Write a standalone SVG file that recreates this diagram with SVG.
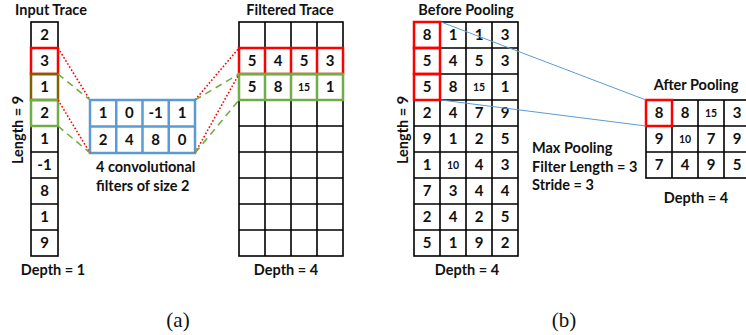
<svg xmlns="http://www.w3.org/2000/svg" width="746" height="335" viewBox="0 0 746 335">
<style>
text{font-family:Lato,"Liberation Sans",sans-serif;font-weight:bold;fill:#111}
.t{font-size:14.5px;text-anchor:middle}
.n{font-size:15px;text-anchor:middle}
.s{font-size:10.5px;text-anchor:middle}
.l{font-size:14.5px;text-anchor:start}
.cap{font-family:"Liberation Serif","DejaVu Serif",serif;font-weight:normal;font-size:21px;text-anchor:middle}
.g{fill:#fff;stroke:#000;stroke-width:1.6}
.gl{stroke:#000;stroke-width:1.6}
.red{fill:none;stroke:#ff0000;stroke-width:2.5}
.grn{fill:none;stroke:#70ad47;stroke-width:2.5}
.brn{fill:none;stroke:#806000;stroke-width:2.5}
.blu{fill:none;stroke:#5b9bd5;stroke-width:2.5}
.rd{stroke:#ff0000;stroke-width:1.6;stroke-dasharray:1.6 2;fill:none}
.gd{stroke:#70ad47;stroke-width:1.6;stroke-dasharray:7 5;fill:none}
.bl{stroke:#5b9bd5;stroke-width:1;fill:none}
</style>

<g id="input-trace">
<text class="t" x="51" y="15">Input Trace</text>
<rect class="g" x="31" y="22" width="27" height="234"/>
<path class="gl" d="M31 48H58M31 74H58M31 100H58M31 126H58M31 152H58M31 178H58M31 204H58M31 230H58"/>
<rect class="red" x="31" y="48" width="27" height="26"/>
<rect class="brn" x="31" y="74" width="27" height="26"/>
<rect class="grn" x="31" y="100" width="27" height="26"/>
<text class="n" x="44.5" y="40">2</text>
<text class="n" x="44.5" y="66">3</text>
<text class="n" x="44.5" y="92">1</text>
<text class="n" x="44.5" y="118">2</text>
<text class="n" x="44.5" y="144">1</text>
<text class="n" x="44.5" y="170">-1</text>
<text class="n" x="44.5" y="196">8</text>
<text class="n" x="44.5" y="222">1</text>
<text class="n" x="44.5" y="248">9</text>
<text class="t" x="23" y="130" transform="rotate(-90 23 130)">Length = 9</text>
<text class="t" x="53" y="275">Depth = 1</text>
</g>

<g id="filters">
<rect x="90" y="100" width="105" height="53" fill="#fff"/>
<path class="blu" d="M116.25 100V153M142.5 100V153M168.75 100V153M90 126.5H195"/>
<rect class="blu" x="90" y="100" width="105" height="53"/>
<text class="n" x="103" y="118">1</text>
<text class="n" x="129.4" y="118">0</text>
<text class="n" x="155.6" y="118">-1</text>
<text class="n" x="182" y="118">1</text>
<text class="n" x="103" y="145">2</text>
<text class="n" x="129.4" y="145">4</text>
<text class="n" x="155.6" y="145">8</text>
<text class="n" x="182" y="145">0</text>
<text class="l" x="96" y="172">4 convolutional</text>
<text class="l" x="96" y="191">filters of size 2</text>
</g>

<g id="filtered-trace">
<text class="t" x="290" y="15">Filtered Trace</text>
<rect class="g" x="239" y="22" width="104" height="234"/>
<path class="gl" d="M265 22V256M291 22V256M317 22V256M239 48H343M239 74H343M239 100H343M239 126H343M239 152H343M239 178H343M239 204H343M239 230H343"/>
<rect class="red" x="239" y="48" width="104" height="26"/>
<path class="red" d="M265 48V74M291 48V74M317 48V74"/>
<rect class="grn" x="239" y="74" width="104" height="26"/>
<path class="grn" d="M265 74V100M291 74V100M317 74V100"/>
<text class="n" x="252" y="66">5</text>
<text class="n" x="278" y="66">4</text>
<text class="n" x="304" y="66">5</text>
<text class="n" x="330" y="66">3</text>
<text class="n" x="252" y="92">5</text>
<text class="n" x="278" y="92">8</text>
<text class="s" x="304" y="91">15</text>
<text class="n" x="330" y="92">1</text>
<text class="t" x="286" y="275">Depth = 4</text>
</g>

<g id="before-pooling">
<text class="t" x="466" y="15">Before Pooling</text>
<rect class="g" x="414" y="22" width="104" height="234"/>
<path class="gl" d="M440 22V256M466 22V256M492 22V256M414 48H518M414 74H518M414 100H518M414 126H518M414 152H518M414 178H518M414 204H518M414 230H518"/>
<rect class="red" x="414" y="22" width="26" height="26"/>
<rect class="red" x="414" y="48" width="26" height="26"/>
<rect class="red" x="414" y="74" width="26" height="26"/>
<g>
<text class="n" x="427" y="40">8</text><text class="n" x="453" y="40">1</text><text class="n" x="479" y="40">1</text><text class="n" x="505" y="40">3</text>
<text class="n" x="427" y="66">5</text><text class="n" x="453" y="66">4</text><text class="n" x="479" y="66">5</text><text class="n" x="505" y="66">3</text>
<text class="n" x="427" y="92">5</text><text class="n" x="453" y="92">8</text><text class="s" x="479" y="91">15</text><text class="n" x="505" y="92">1</text>
<text class="n" x="427" y="118">2</text><text class="n" x="453" y="118">4</text><text class="n" x="479" y="118">7</text><text class="n" x="505" y="118">9</text>
<text class="n" x="427" y="144">9</text><text class="n" x="453" y="144">1</text><text class="n" x="479" y="144">2</text><text class="n" x="505" y="144">5</text>
<text class="n" x="427" y="170">1</text><text class="s" x="453" y="169">10</text><text class="n" x="479" y="170">4</text><text class="n" x="505" y="170">3</text>
<text class="n" x="427" y="196">7</text><text class="n" x="453" y="196">3</text><text class="n" x="479" y="196">4</text><text class="n" x="505" y="196">4</text>
<text class="n" x="427" y="222">2</text><text class="n" x="453" y="222">4</text><text class="n" x="479" y="222">2</text><text class="n" x="505" y="222">5</text>
<text class="n" x="427" y="248">5</text><text class="n" x="453" y="248">1</text><text class="n" x="479" y="248">9</text><text class="n" x="505" y="248">2</text>
</g>
<text class="t" x="408" y="130" transform="rotate(-90 408 130)">Length = 9</text>
<text class="t" x="467" y="275">Depth = 4</text>
</g>

<g id="pooling-label">
<text class="l" x="532" y="153">Max Pooling</text>
<text class="l" x="532" y="172">Filter Length = 3</text>
<text class="l" x="532" y="190">Stride = 3</text>
</g>

<g id="after-pooling">
<text class="t" x="696" y="90">After Pooling</text>
<rect class="g" x="646" y="100" width="104" height="78"/>
<path class="gl" d="M672 100V178M698 100V178M724 100V178M646 126H750M646 152H750"/>
<rect class="red" x="646" y="100" width="26" height="26"/>
<text class="n" x="659" y="118">8</text><text class="n" x="685" y="118">8</text><text class="s" x="711" y="117">15</text><text class="n" x="737" y="118">3</text>
<text class="n" x="659" y="144">9</text><text class="s" x="685" y="143">10</text><text class="n" x="711" y="144">7</text><text class="n" x="737" y="144">9</text>
<text class="n" x="659" y="170">7</text><text class="n" x="685" y="170">4</text><text class="n" x="711" y="170">9</text><text class="n" x="737" y="170">5</text>
<text class="t" x="696" y="203">Depth = 4</text>
</g>

<g id="connectors">
<path class="rd" d="M58 48L90 100M58 100L90 153"/>
<path class="gd" d="M58 74L90 100M58 126L90 153"/>
<path class="rd" d="M195 100L239 48M195 153L239 74"/>
<path class="gd" d="M195 100L239 74M195 153L239 100"/>
<path class="bl" d="M441 22L646 100M441 100L646 126"/>
</g>

<text class="cap" x="178" y="327">(a)</text>
<text class="cap" x="564" y="327">(b)</text>
</svg>
